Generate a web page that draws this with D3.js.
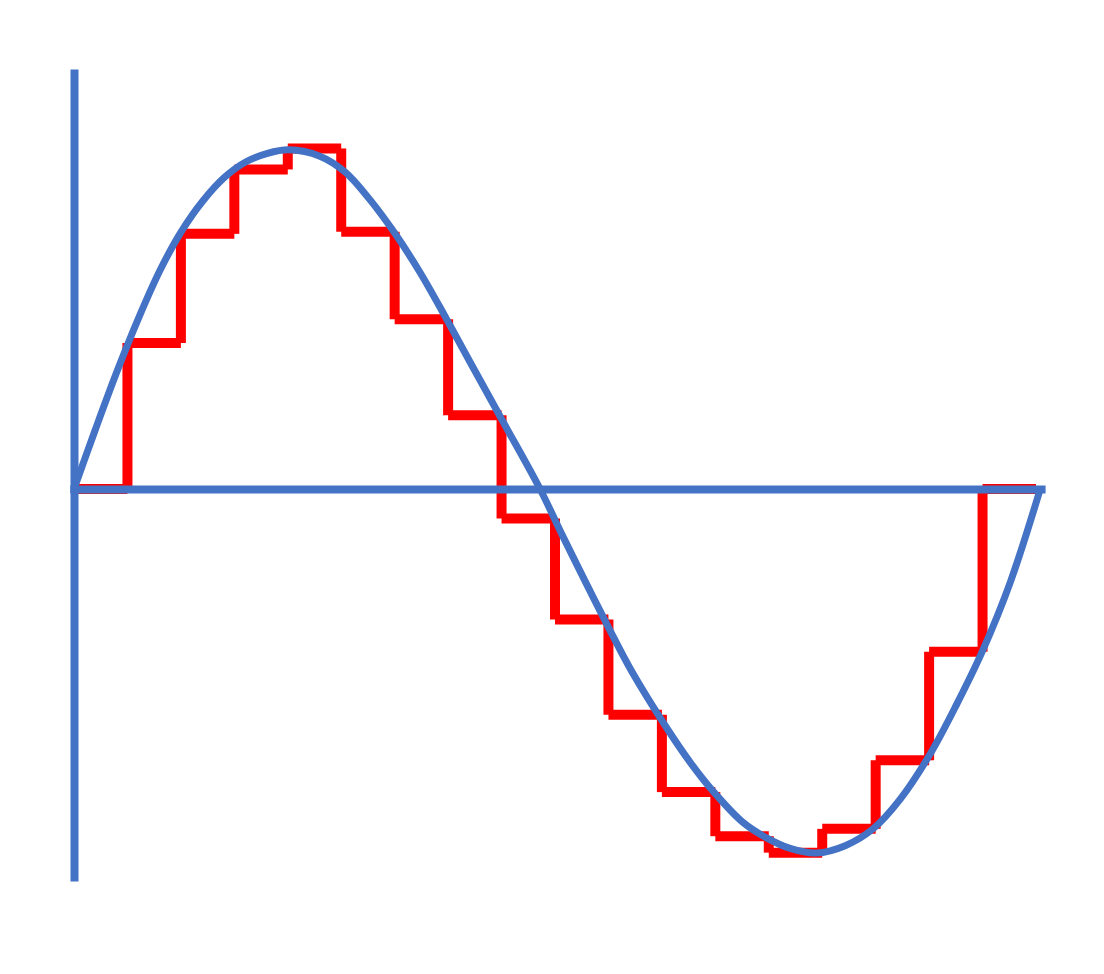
<!DOCTYPE html>
<html>
<head>
<meta charset="utf-8">
<script src="https://cdn.jsdelivr.net/npm/d3@7"></script>
<style>
  html, body { margin: 0; padding: 0; background: #ffffff; }
  svg { display: block; }
</style>
</head>
<body>
<svg id="chart" width="1104" height="974"></svg>
<script>
// Sample-and-hold levels (one value per sample interval, 18 intervals)
const stepValues = [0, 0.417, 0.729, 0.913, 0.973, 0.735, 0.485, 0.211, -0.084,
                    -0.373, -0.645, -0.866, -0.992, -1.039, -0.971, -0.775, -0.465, 0];

// Continuous (analog) signal: time in sample units, value
const curveT = [0, 0.40, 0.80, 1.21, 1.61, 2.01, 2.41, 2.82, 3.22, 3.62, 4.02,
                4.60, 5.07, 5.54, 6.01, 6.47, 6.94, 7.41, 8.01, 8.72,
                9.15, 10.01, 10.44, 11.10, 11.53, 11.96, 12.52, 12.95, 13.40, 13.89,
                14.43, 14.95, 15.46, 16.02, 16.52, 17.01, 17.52, 18.08];
const curveV = [0, 0.170, 0.334, 0.489, 0.625, 0.736, 0.823, 0.891, 0.935, 0.959, 0.969,
                0.951, 0.906, 0.826, 0.729, 0.620, 0.494, 0.363, 0.197, 0,
                -0.136, -0.398, -0.522, -0.685, -0.781, -0.864, -0.953, -0.996, -1.027, -1.040,
                -1.019, -0.971, -0.886, -0.757, -0.614, -0.459, -0.266, 0];

// Extents of the two axis lines (data units)
const xAxisExtent = [-0.08, 18.17];
const yAxisExtent = [-1.12, 1.20];

const blue = "#4472C4";
const red = "#FF0000";

const svg = d3.select("#chart");
svg.append("rect").attr("width", 1104).attr("height", 974).attr("fill", "#ffffff");

const x = d3.scaleLinear().domain([0, 18]).range([74, 1036]);
const y = d3.scaleLinear().domain([-1, 1]).range([839, 139]);

// Staircase (drawn as separate butt-capped segments)
const segs = [];
stepValues.forEach((v, i) => {
  segs.push({x1: x(i), y1: y(v), x2: x(i + 1), y2: y(v)});
  if (i < stepValues.length - 1) {
    segs.push({x1: x(i + 1), y1: y(v), x2: x(i + 1), y2: y(stepValues[i + 1])});
  }
});
svg.append("g").selectAll("line").data(segs).join("line")
  .attr("x1", d => d.x1).attr("y1", d => d.y1)
  .attr("x2", d => d.x2).attr("y2", d => d.y2)
  .attr("stroke", red).attr("stroke-width", 10).attr("stroke-linecap", "butt");

// Axes
const xAxisScale = d3.scaleLinear().domain(xAxisExtent).range(xAxisExtent.map(x));
const yAxisScale = d3.scaleLinear().domain(yAxisExtent).range(yAxisExtent.map(y));

const gx = svg.append("g").attr("transform", `translate(0,${y(0)})`)
  .call(d3.axisBottom(xAxisScale).tickValues([]).tickSizeOuter(0));
const gy = svg.append("g").attr("transform", `translate(${x(0)},0)`)
  .call(d3.axisLeft(yAxisScale).tickValues([]).tickSizeOuter(0));
[gx, gy].forEach(g => g.select(".domain")
  .attr("stroke", blue).attr("stroke-width", 8).attr("fill", "none"));

// Analog curve
const pts = curveT.map((t, i) => [t, curveV[i]]);
const line = d3.line().x(d => x(d[0])).y(d => y(d[1])).curve(d3.curveCatmullRom.alpha(0.5));
svg.append("path").datum(pts)
  .attr("d", line)
  .attr("fill", "none").attr("stroke", blue).attr("stroke-width", 7)
  .attr("stroke-linecap", "butt").attr("stroke-linejoin", "round");
</script>
</body>
</html>
